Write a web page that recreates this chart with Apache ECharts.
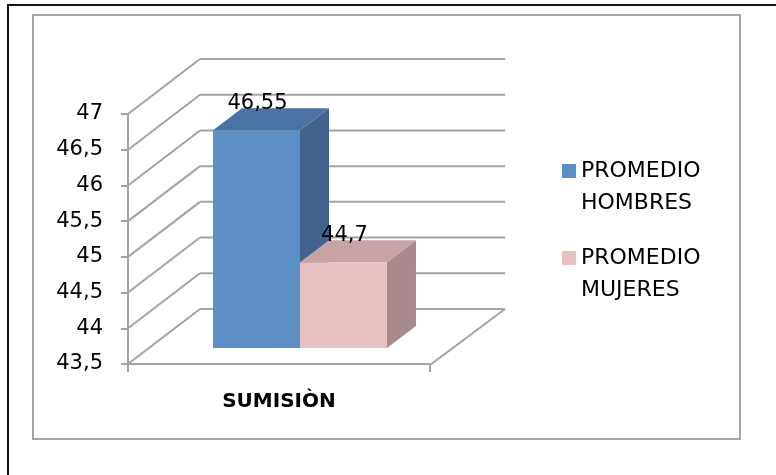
<!DOCTYPE html>
<html>
<head>
<meta charset="utf-8">
<script src="https://cdn.jsdelivr.net/npm/echarts@6/dist/echarts.min.js"></script>
<style>
html,body{margin:0;padding:0;background:#fff;}
#c{width:776px;height:475px;}
</style>
</head>
<body>
<div id="c"></div>
<script>
// ---- data ----
const categories = ['SUMISIÒN'];
const seriesNames = ['PROMEDIO\nHOMBRES', 'PROMEDIO\nMUJERES'];
const hombres = [46.55];
const mujeres = [44.7];
const yTicks = [43.5, 44, 44.5, 45, 45.5, 46, 46.5, 47];

// ---- style / layout ----
const FONT = 'DejaVu Sans';
const GRAY = '#a3a3a3';
const WALL = [72, -55];      // depth offset of back wall
const BAR_FRONT = [21, -16]; // bar front plane offset
const BAR_DEPTH = [29, -22]; // bar depth
const BAR_W_FRAC = 0.288;    // bar width as fraction of category band
const palettes = [
  { front: '#5b8fc5', top: '#4a72a2', side: '#41648f' },
  { front: '#e7c1c1', top: '#c8a3a5', side: '#a98b8d' }
];

const fmt = v => String(v).replace('.', ',');

function frameRender(params, api) {
  const cs = params.coordSys;
  const v = api.value(1);
  const p = api.coord([0, v]);
  const xl = cs.x, xr = cs.x + cs.width;
  const y = p[1];
  const lineStyle = { stroke: GRAY, lineWidth: 2 };
  const children = [
    { type: 'line', shape: { x1: xl, y1: y, x2: xl + WALL[0], y2: y + WALL[1] }, style: lineStyle },
    { type: 'line', shape: { x1: xl + WALL[0], y1: y + WALL[1], x2: xr + WALL[0] + 3, y2: y + WALL[1] }, style: lineStyle }
  ];
  if (params.dataIndex === 0) {
    children.push({ type: 'line', shape: { x1: xr, y1: y + 1, x2: xr + WALL[0] + 3, y2: y + WALL[1] }, style: lineStyle });
  }
  return { type: 'group', children: children };
}

function makeBarRender(idx) {
  const pal = palettes[idx];
  return function (params, api) {
    const cat = api.value(0), v = api.value(1);
    const c = api.coord([cat, v]);
    const base = api.coord([cat, yTicks[0]]);
    const band = api.size([1, 0])[0];
    const bw = band * BAR_W_FRAC;
    const x0 = c[0] - bw + idx * bw + BAR_FRONT[0];
    const x1 = x0 + bw;
    const yt = c[1] + BAR_FRONT[1];
    const yb = base[1] + BAR_FRONT[1];
    const dx = BAR_DEPTH[0], dy = BAR_DEPTH[1];
    return {
      type: 'group',
      children: [
        { type: 'polygon', shape: { points: [[x1, yt], [x1 + dx, yt + dy], [x1 + dx, yb + dy], [x1, yb]] }, style: { fill: pal.side } },
        { type: 'polygon', shape: { points: [[x0, yt], [x0 + dx, yt + dy], [x1 + dx, yt + dy], [x1, yt]] }, style: { fill: pal.top } },
        { type: 'rect', shape: { x: x0, y: yt, width: bw, height: yb - yt }, style: { fill: pal.front } },
        { type: 'text', x: (x0 + x1) / 2 + 1, y: yt - 27, style: { text: fmt(v), fill: '#000', font: '21px "' + FONT + '"', align: 'center', verticalAlign: 'middle' } }
      ]
    };
  };
}

const chart = echarts.init(document.getElementById('c'), null, { renderer: 'canvas' });
chart.setOption({
  backgroundColor: '#ffffff',
  animation: false,
  graphic: [
    { type: 'line', shape: { x1: 8, y1: 5, x2: 776, y2: 5 }, style: { stroke: '#111', lineWidth: 2 } },
    { type: 'line', shape: { x1: 8, y1: 4, x2: 8, y2: 475 }, style: { stroke: '#111', lineWidth: 2 } },
    { type: 'rect', shape: { x: 33, y: 15, width: 707, height: 424 }, style: { fill: 'none', stroke: '#a6a6a6', lineWidth: 2 } }
  ],
  grid: { left: 128, right: 346, top: 114, bottom: 111, containLabel: false },
  legend: {
    orient: 'vertical',
    left: 562,
    top: 123,
    padding: 0,
    itemWidth: 14,
    itemHeight: 14,
    itemGap: -9,
    icon: 'rect',
    data: seriesNames,
    formatter: name => ' \n' + name,
    textStyle: { fontFamily: FONT, fontSize: 22, color: '#000', lineHeight: 32 }
  },
  xAxis: {
    type: 'category',
    data: categories,
    boundaryGap: true,
    axisLine: { show: true, lineStyle: { color: GRAY, width: 2 } },
    axisTick: { show: true, length: 8, interval: 0, lineStyle: { color: GRAY, width: 2 } },
    axisLabel: { margin: 28, fontFamily: FONT, fontSize: 20, fontWeight: 'bold', color: '#000' },
    splitLine: { show: false }
  },
  yAxis: {
    type: 'value',
    min: 43.5,
    max: 47,
    interval: 0.5,
    axisLine: { show: true, lineStyle: { color: GRAY, width: 2 } },
    axisTick: { show: true, length: 7, lineStyle: { color: GRAY, width: 2 } },
    axisLabel: { margin: 25, fontFamily: FONT, fontSize: 21, color: '#000', formatter: v => fmt(v) },
    splitLine: { show: false }
  },
  series: [
    {
      type: 'custom',
      name: 'frame',
      silent: true,
      z: 1,
      renderItem: frameRender,
      data: yTicks.map(v => [0, v])
    },
    {
      type: 'custom',
      name: seriesNames[0],
      z: 3,
      itemStyle: { color: palettes[0].front },
      renderItem: makeBarRender(0),
      data: hombres.map((v, i) => [i, v])
    },
    {
      type: 'custom',
      name: seriesNames[1],
      z: 4,
      itemStyle: { color: palettes[1].front },
      renderItem: makeBarRender(1),
      data: mujeres.map((v, i) => [i, v])
    }
  ]
});
</script>
</body>
</html>
